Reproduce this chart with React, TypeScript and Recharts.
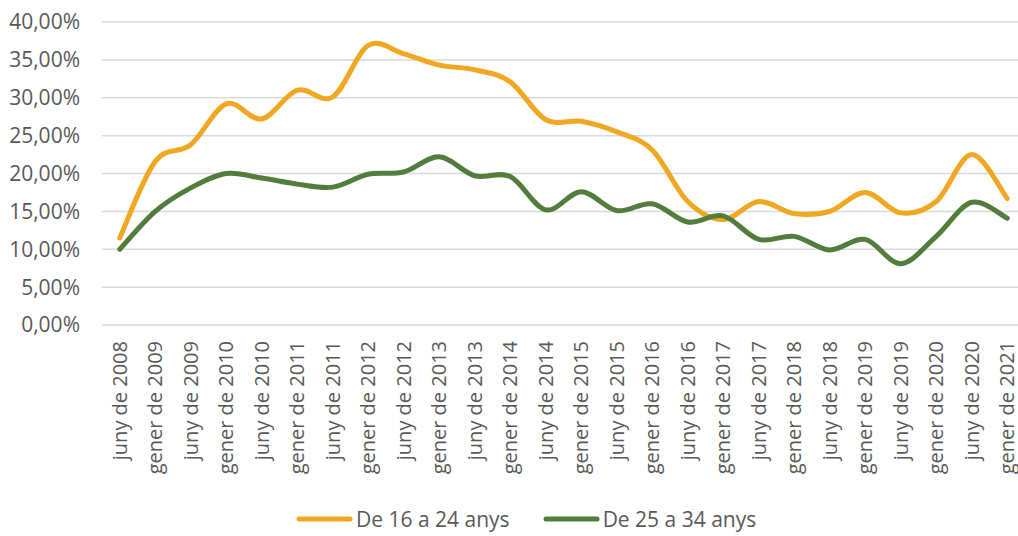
import { LineChart, Line, XAxis, YAxis, CartesianGrid, Legend } from "recharts";

const periods = [
  "juny de 2008", "gener de 2009", "juny de 2009", "gener de 2010", "juny de 2010",
  "gener de 2011", "juny de 2011", "gener de 2012", "juny de 2012", "gener de 2013",
  "juny de 2013", "gener de 2014", "juny de 2014", "gener de 2015", "juny de 2015",
  "gener de 2016", "juny de 2016", "gener de 2017", "juny de 2017", "gener de 2018",
  "juny de 2018", "gener de 2019", "juny de 2019", "gener de 2020", "juny de 2020",
  "gener de 2021",
];

const young = [
  11.5, 21.6, 23.8, 29.2, 27.2, 31.0, 30.1, 36.9, 35.8, 34.3, 33.7, 32.1, 27.1,
  26.9, 25.5, 23.1, 16.3, 13.9, 16.3, 14.7, 15.0, 17.5, 14.8, 16.3, 22.5, 16.7,
];

const adults = [
  10.0, 15.0, 18.1, 20.0, 19.4, 18.6, 18.2, 19.9, 20.2, 22.2, 19.7, 19.6, 15.2,
  17.6, 15.1, 16.0, 13.6, 14.4, 11.3, 11.7, 9.9, 11.3, 8.1, 11.7, 16.2, 14.1,
];

const yTicks = [0, 5, 10, 15, 20, 25, 30, 35, 40];

const seriesNames = ["De 16 a 24 anys", "De 25 a 34 anys"];
const colors = ["#F0A823", "#527D3C"];

const data = periods.map((p, i) => ({ period: p, young: young[i], adults: adults[i] }));

const FONT = "'Open Sans', 'Noto Sans', sans-serif";
const TEXT = "#595959";

// smoothed line a la Excel (Catmull-Rom as bezier)
function smoothCurve(context: any) {
  let pts: number[][] = [];
  return {
    areaStart() {},
    areaEnd() {},
    lineStart() {
      pts = [];
    },
    point(x: number, y: number) {
      pts.push([+x, +y]);
    },
    lineEnd() {
      if (!pts.length) return;
      context.moveTo(pts[0][0], pts[0][1]);
      for (let i = 0; i < pts.length - 1; i++) {
        const p0 = pts[i - 1] || pts[i];
        const p1 = pts[i];
        const p2 = pts[i + 1];
        const p3 = pts[i + 2] || p2;
        context.bezierCurveTo(
          p1[0] + (p2[0] - p0[0]) / 6,
          p1[1] + (p2[1] - p0[1]) / 6,
          p2[0] - (p3[0] - p1[0]) / 6,
          p2[1] - (p3[1] - p1[1]) / 6,
          p2[0],
          p2[1]
        );
      }
    },
  };
}

const XTick = (props: any) => {
  const { x, payload } = props;
  const y = 341;
  return (
    <text
      x={x}
      y={y}
      transform={`rotate(-90, ${x}, ${y})`}
      textAnchor="end"
      dy="0.35em"
      fill={TEXT}
      fontSize={20}
      fontFamily={FONT}
    >
      {payload.value}
    </text>
  );
};

const LegendBox = () => (
  <div style={{ display: "flex", alignItems: "center", fontFamily: FONT, fontSize: 21, color: TEXT }}>
    {seriesNames.map((name, i) => (
      <div key={name} style={{ display: "flex", alignItems: "center", marginRight: 33 }}>
        <svg width={57} height={8} style={{ marginRight: 3 }}>
          <line x1={3} y1={4} x2={54} y2={4} stroke={colors[i]} strokeWidth={5} strokeLinecap="round" />
        </svg>
        <span>{name}</span>
      </div>
    ))}
  </div>
);

export default function App() {
  return (
    <div style={{ position: "absolute", left: 0, top: 0 }}>
      <LineChart
        width={1030}
        height={536}
        data={data}
        margin={{ top: 22, right: 5, left: 0, bottom: 0 }}
      >
        <CartesianGrid vertical={false} stroke="#D9D9D9" strokeWidth={1.5} />
        <XAxis
          dataKey="period"
          interval={0}
          height={211}
          axisLine={false}
          tickLine={false}
          padding={{ left: 17.75, right: 17.75 }}
          tick={<XTick />}
        />
        <YAxis
          width={102}
          domain={[0, 40]}
          ticks={yTicks}
          axisLine={false}
          tickLine={false}
          tickSize={6}
          tickMargin={16}
          tickFormatter={(v: number) => v.toFixed(2).replace(".", ",") + "%"}
          tick={{ fill: TEXT, fontSize: 21, fontFamily: FONT }}
        />
        <Legend
          layout="horizontal"
          verticalAlign="middle"
          align="center"
          content={<LegendBox />}
          wrapperStyle={{ top: 505, left: 296, width: 560, height: 28 }}
        />
        <Line
          dataKey="young"
          name={seriesNames[0]}
          type={smoothCurve as any}
          stroke={colors[0]}
          strokeWidth={5}
          strokeLinecap="round"
          dot={false}
          activeDot={false}
          isAnimationActive={false}
        />
        <Line
          dataKey="adults"
          name={seriesNames[1]}
          type={smoothCurve as any}
          stroke={colors[1]}
          strokeWidth={5}
          strokeLinecap="round"
          dot={false}
          activeDot={false}
          isAnimationActive={false}
        />
      </LineChart>
    </div>
  );
}
